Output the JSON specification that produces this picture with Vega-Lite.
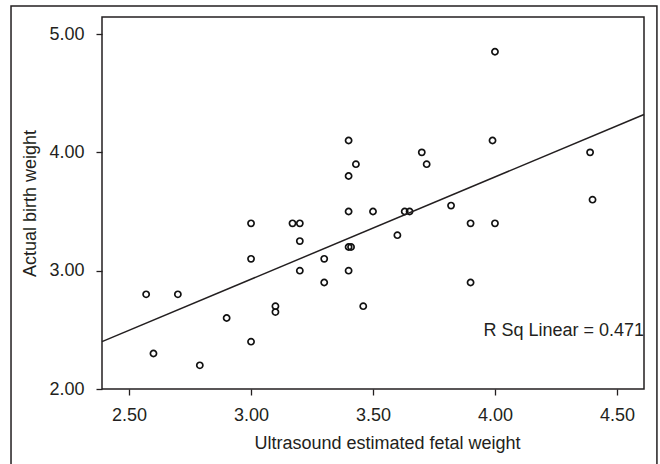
{
  "$schema": "https://vega.github.io/schema/vega-lite/v6.json",
  "width": 542,
  "height": 372,
  "autosize": "none",
  "padding": {"left": 102, "top": 17, "right": 16, "bottom": 75},
  "background": "white",
  "config": {
    "font": "Liberation Sans",
    "view": {"stroke": "#231f20", "strokeWidth": 1.5},
    "axis": {
      "grid": false,
      "domain": false,
      "tickColor": "#231f20",
      "tickWidth": 1.3,
      "tickSize": 6,
      "labelFont": "Liberation Sans",
      "labelFontSize": 18,
      "labelColor": "#231f20",
      "titleFont": "Liberation Sans",
      "titleFontSize": 18,
      "titleFontWeight": "normal",
      "titleColor": "#231f20"
    }
  },
  "layer": [
    {
      "data": {"values": [{}]},
      "mark": {"type": "rect", "fill": null, "stroke": "#231f20", "strokeWidth": 1.5, "clip": false},
      "encoding": {
        "x": {"datum": 2.016, "type": "quantitative"},
        "x2": {"datum": 4.664},
        "y": {"datum": 5.237, "type": "quantitative"},
        "y2": {"datum": 1.3}
      }
    },
    {
      "data": {
        "values": [
          {"usw": 2.57, "abw": 2.80}, {"usw": 2.60, "abw": 2.30}, {"usw": 2.70, "abw": 2.80},
          {"usw": 2.79, "abw": 2.20}, {"usw": 2.90, "abw": 2.60}, {"usw": 3.00, "abw": 3.40},
          {"usw": 3.00, "abw": 3.10}, {"usw": 3.00, "abw": 2.40}, {"usw": 3.10, "abw": 2.70},
          {"usw": 3.10, "abw": 2.65}, {"usw": 3.17, "abw": 3.40}, {"usw": 3.20, "abw": 3.40},
          {"usw": 3.20, "abw": 3.25}, {"usw": 3.20, "abw": 3.00}, {"usw": 3.30, "abw": 3.10},
          {"usw": 3.30, "abw": 2.90}, {"usw": 3.40, "abw": 4.10}, {"usw": 3.40, "abw": 3.80},
          {"usw": 3.40, "abw": 3.50}, {"usw": 3.40, "abw": 3.20}, {"usw": 3.41, "abw": 3.20},
          {"usw": 3.40, "abw": 3.00}, {"usw": 3.43, "abw": 3.90}, {"usw": 3.46, "abw": 2.70},
          {"usw": 3.50, "abw": 3.50}, {"usw": 3.60, "abw": 3.30}, {"usw": 3.63, "abw": 3.50},
          {"usw": 3.65, "abw": 3.50}, {"usw": 3.70, "abw": 4.00}, {"usw": 3.72, "abw": 3.90},
          {"usw": 3.82, "abw": 3.55}, {"usw": 3.90, "abw": 3.40}, {"usw": 3.90, "abw": 2.90},
          {"usw": 3.99, "abw": 4.10}, {"usw": 4.00, "abw": 4.85}, {"usw": 4.00, "abw": 3.40},
          {"usw": 4.39, "abw": 4.00}, {"usw": 4.40, "abw": 3.60}
        ]
      },
      "mark": {"type": "point", "shape": "circle", "filled": false, "stroke": "#111111", "strokeWidth": 1.7, "size": 38, "opacity": 1},
      "encoding": {
        "x": {
          "field": "usw", "type": "quantitative",
          "scale": {"domain": [2.389, 4.611], "nice": false, "zero": false},
          "axis": {"values": [2.5, 3.0, 3.5, 4.0, 4.5], "format": ".2f", "labelPadding": 11, "title": "Ultrasound estimated fetal weight", "titleBaseline": "alphabetic", "titleY": 59, "titleX": 285}
        },
        "y": {
          "field": "abw", "type": "quantitative",
          "scale": {"domain": [2, 5.144], "nice": false, "zero": false},
          "axis": {"values": [2, 3, 4, 5], "format": ".2f", "labelPadding": 12, "title": "Actual birth weight", "titleBaseline": "alphabetic", "titleX": -67}
        }
      }
    },
    {
      "data": {"values": [{"usw": 2.389, "abw": 2.40}, {"usw": 4.611, "abw": 4.32}]},
      "mark": {"type": "line", "color": "#231f20", "strokeWidth": 1.5},
      "encoding": {
        "x": {"field": "usw", "type": "quantitative"},
        "y": {"field": "abw", "type": "quantitative"}
      }
    },
    {
      "data": {"values": [{}]},
      "mark": {"type": "text", "align": "right", "baseline": "alphabetic", "fontSize": 18, "color": "#231f20", "font": "Liberation Sans"},
      "encoding": {
        "x": {"datum": 4.611, "type": "quantitative"},
        "y": {"datum": 2.45, "type": "quantitative"},
        "text": {"value": "R Sq Linear = 0.471"}
      }
    }
  ]
}
